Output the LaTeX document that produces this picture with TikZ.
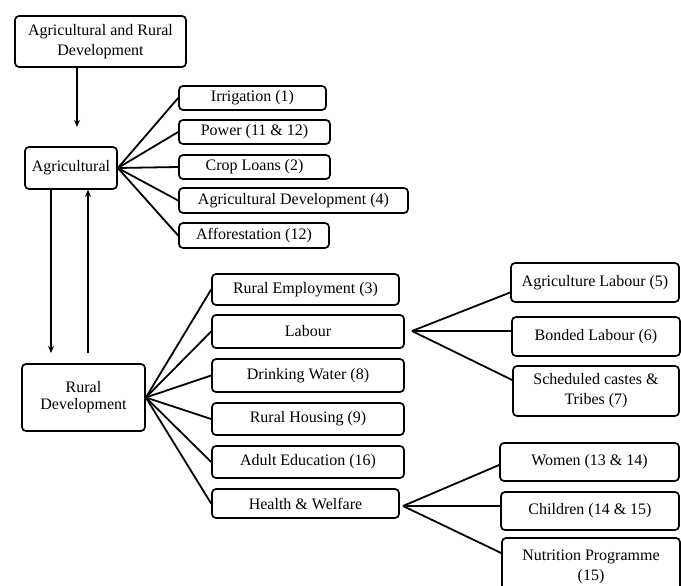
\documentclass[tikz,border=0pt]{standalone}
\usepackage{fontspec}
\setmainfont{Liberation Serif}
\usetikzlibrary{arrows.meta}
\begin{document}
\begin{tikzpicture}[x=1pt,y=-1pt,
  box/.style={draw=black, line width=1.7pt, rounded corners=4pt, align=center,
    inner sep=0pt, font=\fontsize{16}{20}\selectfont, text=black},
  link/.style={line width=1.8pt, black},
  arr/.style={line width=1.4pt, black, -{Stealth[length=7pt,width=6pt]}}]
\clip (0,0) rectangle (681,586);
\fill[white] (0,0) rectangle (681,586);

% main column
\node[box, minimum width=171pt, minimum height=51pt] (top) at (100.5,41.5) {Agricultural and Rural\\Development};
\node[box, minimum width=92pt, minimum height=42pt] (agr) at (71,168) {Agricultural};
\node[box, minimum width=123pt, minimum height=67pt, font=\fontsize{16}{17}\selectfont] (rur) at (83.5,397.5) {Rural\\Development};

% agricultural programmes
\node[box, minimum width=147pt, minimum height=24pt] (irr) at (252.5,98) {Irrigation (1)};
\node[box, minimum width=151pt, minimum height=24pt] (pow) at (254.5,132) {Power (11 \& 12)};
\node[box, minimum width=151pt, minimum height=24pt] (crop) at (254.5,167) {Crop Loans (2)};
\node[box, minimum width=229pt, minimum height=25pt] (adev) at (293.5,200.5) {Agricultural Development (4)};
\node[box, minimum width=150pt, minimum height=25pt] (aff) at (254,235.5) {Afforestation (12)};

% rural programmes
\node[box, minimum width=187pt, minimum height=31pt] (remp) at (305.5,289.5) {Rural Employment (3)};
\node[box, minimum width=192pt, minimum height=33pt] (lab) at (308,331.5) {Labour};
\node[box, minimum width=192pt, minimum height=33pt] (dw) at (308,375.5) {Drinking Water (8)};
\node[box, minimum width=192pt, minimum height=32pt] (rh) at (308,419) {Rural Housing (9)};
\node[box, minimum width=192pt, minimum height=32pt] (ae) at (308,462) {Adult Education (16)};
\node[box, minimum width=187pt, minimum height=29pt] (hw) at (305.5,503.5) {Health \& Welfare};

% labour sub-programmes
\node[box, minimum width=168pt, minimum height=39pt] (al) at (595,282.5) {Agriculture Labour (5)};
\node[box, minimum width=168pt, minimum height=39pt] (bl) at (596,336.5) {Bonded Labour (6)};
\node[box, minimum width=166pt, minimum height=50pt] (sct) at (596,391) {Scheduled castes \&\\Tribes (7)};

% health & welfare sub-programmes
\node[box, minimum width=179pt, minimum height=38pt] (wom) at (589.5,462) {Women (13 \& 14)};
\node[box, minimum width=178pt, minimum height=38pt] (chi) at (590,511) {Children (14 \& 15)};
\node[box, minimum width=178pt, minimum height=58pt] (nut) at (591,567) {Nutrition Programme\\(15)};

% junction points of the right-hand fans
\coordinate (labJ) at (412,331);
\coordinate (hwJ) at (403,506);

% vertical arrows
\draw[arr] (top.south -| 77,0) -- (77,127);
\draw[arr] (agr.south -| 51,0) -- (51,353);
\draw[arr] (88,353) -- (agr.south -| 88,0);

% fans
\foreach \t in {irr,pow,crop,adev,aff} \draw[link] (agr.east) -- (\t.west);
\foreach \t in {remp,lab,dw,rh,ae,hw} \draw[link] (rur.east) -- (\t.west);
\draw[link] (labJ) -- ([yshift=-10pt]al.west);
\draw[link] (labJ) -- ([yshift=5.5pt]bl.west);
\draw[link] (labJ) -- ([yshift=11pt]sct.west);
\draw[link] (hwJ) -- ([yshift=-3pt]wom.west);
\draw[link] (hwJ) -- ([yshift=5pt]chi.west);
\draw[link] (hwJ) -- (nut.west |- 0,553);
\end{tikzpicture}
\end{document}
